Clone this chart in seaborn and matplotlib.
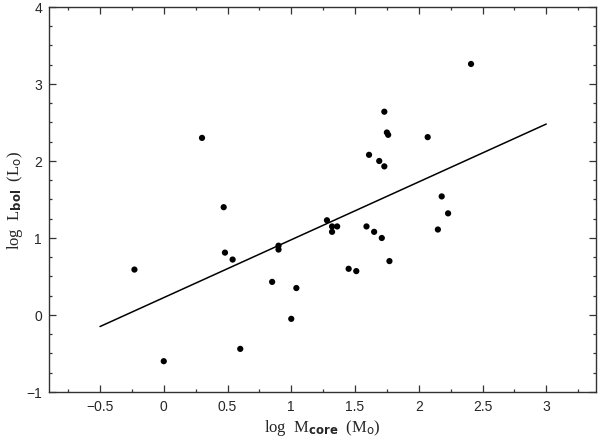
import numpy as np
import pandas as pd
import seaborn as sns
import matplotlib.pyplot as plt
from matplotlib.ticker import MultipleLocator

sns.set_style('ticks')
plt.rcParams['font.family'] = ['Liberation Sans', 'DejaVu Sans']
plt.rcParams['mathtext.default'] = 'regular'

# points
log_mcore = [-0.23, 0.00, 0.30, 0.47, 1.73, 1.75, 1.76, 1.61, 1.69, 1.73,
             0.48, 0.54, 0.90, 0.90, 0.85, 1.04, 1.00, 0.60, 1.28, 1.32,
             1.32, 1.36, 1.59, 1.65, 1.71, 1.77, 1.45, 1.51, 2.41, 2.07,
             2.18, 2.23, 2.15]
log_lbol = [0.59, -0.60, 2.30, 1.40, 2.64, 2.37, 2.34, 2.08, 2.00, 1.93,
            0.81, 0.72, 0.90, 0.85, 0.43, 0.35, -0.05, -0.44, 1.23, 1.15,
            1.08, 1.15, 1.15, 1.08, 1.00, 0.70, 0.60, 0.57, 3.26, 2.31,
            1.54, 1.32, 1.11]

# fitted relation end points
fit_x = [-0.5, 3.0]
fit_y = [-0.15, 2.48]

df = pd.DataFrame({'x': log_mcore, 'y': log_lbol})
fit = pd.DataFrame({'x': fit_x, 'y': fit_y})

fig = plt.figure(figsize=(6, 4.39), dpi=100)
ax = fig.add_axes([0.0817, 0.1048, 0.9116, 0.877])

sns.lineplot(data=fit, x='x', y='y', color='black', lw=1.1, ax=ax)
sns.scatterplot(data=df, x='x', y='y', color='black', s=20, edgecolor='none', ax=ax)

ax.set_xlim(-0.9, 3.39)
ax.set_ylim(-1, 4)
ax.xaxis.set_minor_locator(MultipleLocator(0.25))
ax.yaxis.set_minor_locator(MultipleLocator(0.25))
ax.set_xticks([-0.5, 0, 0.5, 1, 1.5, 2, 2.5, 3])
ax.set_xticklabels(['\u22120.5', '0', '0.5', '1', '1.5', '2', '2.5', '3'])
ax.set_yticks([-1, 0, 1, 2, 3, 4])
ax.set_yticklabels(['\u22121', '0', '1', '2', '3', '4'])

ax.tick_params(which='both', direction='in', top=True, right=True,
               color='#333333', width=0.9, labelsize=10)
ax.tick_params(axis='x', pad=5)
ax.tick_params(axis='y', pad=5)
ax.tick_params(which='major', length=5)
ax.tick_params(which='minor', length=2.5)
for sp in ax.spines.values():
    sp.set_color('#333333')
    sp.set_linewidth(1.0)

ax.set_xlabel(r'log  M$_{\mathbf{core}}$  (M$_{\mathrm{o}}$)',
              family='Liberation Serif', fontsize=12)
ax.set_ylabel(r'log  L$_{\mathbf{bol}}$  (L$_{\mathrm{o}}$)',
              family='Liberation Serif', fontsize=12)
ax.xaxis.set_label_coords(0.5, -0.064)
ax.yaxis.set_label_coords(-0.044, 0.5)

fig.savefig('out.png', dpi=100)
